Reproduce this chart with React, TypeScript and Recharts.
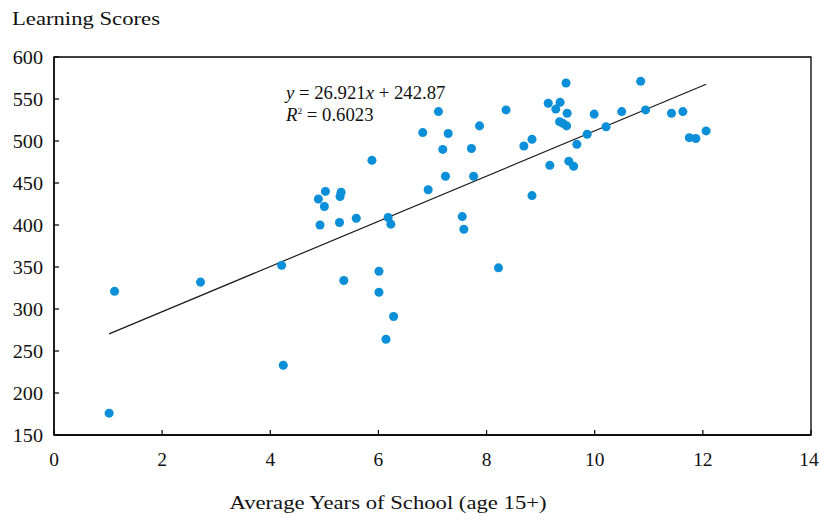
import React from 'react';
import { ScatterChart, Scatter, XAxis, YAxis, ReferenceLine, ReferenceArea } from 'recharts';

const schoolYears = [
  1.02, 1.12, 2.71, 4.21, 4.24, 4.89, 4.92, 5.0, 5.02, 5.28,
  5.31, 5.29, 5.36, 5.59, 5.88, 6.01, 6.01, 6.14, 6.18, 6.23,
  6.28, 6.82, 6.92, 7.11, 7.19, 7.24, 7.29, 7.55, 7.58, 7.72,
  7.76, 7.87, 8.22, 8.36, 8.69, 8.84, 8.84, 9.14, 9.17, 9.28,
  9.36, 9.47, 9.49, 9.35, 9.41, 9.48, 9.52, 9.61, 9.67, 9.86,
  9.99, 10.21, 10.5, 10.85, 10.94, 11.42, 11.63, 11.75, 11.87, 12.06,
];
const learningScores = [
  176, 321, 332, 352, 233, 431, 400, 422, 440, 403,
  439, 434, 334, 408, 477, 345, 320, 264, 409, 401,
  291, 510, 442, 535, 490, 458, 509, 410, 395, 491,
  458, 518, 349, 537, 494, 502, 435, 545, 471, 538,
  546, 569, 533, 523, 521, 518, 476, 470, 496, 508,
  532, 517, 535, 571, 537, 533, 535, 504, 503, 512,
];
const xTicks = [0, 2, 4, 6, 8, 10, 12, 14];
const yTicks = [150, 200, 250, 300, 350, 400, 450, 500, 550, 600];
const trendSlope = 26.921;
const trendIntercept = 242.87;
const rSquared = '0.6023';
const yTitle = 'Learning Scores';
const xTitle = 'Average Years of School (age 15+)';

const FONT = '"Liberation Serif", "Times New Roman", serif';

const XTick = (props: any) => {
  const { x, y, payload } = props;
  const tx = Math.min(x, 809);
  return (
    <g>
      <line x1={x} x2={x} y1={y} y2={y - 5} stroke="#000" strokeWidth={1.2} />
      <text
        transform={`translate(${tx},${y + 31}) scale(1.08,1)`}
        textAnchor="middle"
        fontSize={18}
        fontFamily={FONT}
        fill="#111"
      >
        {payload.value}
      </text>
    </g>
  );
};

const YTick = (props: any) => {
  const { x, y, payload } = props;
  return (
    <g>
      <line x1={x} x2={x + 5} y1={y} y2={y} stroke="#000" strokeWidth={1.2} />
      <text
        transform={`translate(${x - 11},${y + 7}) scale(1.12,1)`}
        textAnchor="end"
        fontSize={18}
        fontFamily={FONT}
        fill="#111"
      >
        {payload.value}
      </text>
    </g>
  );
};

export default function App() {
  const points = schoolYears.map((x, i) => ({ x, y: learningScores[i] }));
  const xMin = Math.min(...schoolYears);
  const xMax = Math.max(...schoolYears);
  const trend = [
    { x: xMin, y: trendSlope * xMin + trendIntercept },
    { x: xMax, y: trendSlope * xMax + trendIntercept },
  ];
  return (
    <div style={{ position: 'absolute', left: 0, top: 0, width: 819, height: 521, background: '#fff' }}>
      <ScatterChart width={819} height={521} margin={{ top: 57, right: 8, bottom: 56, left: 0 }}>
        <XAxis
          type="number"
          dataKey="x"
          domain={[0, 14]}
          ticks={xTicks}
          tick={(p: any) => <XTick {...p} />}
          tickLine={false}
          tickSize={0}
          tickMargin={0}
          height={30}
          axisLine={{ stroke: '#000', strokeWidth: 1.3 }}
          allowDataOverflow
        />
        <YAxis
          type="number"
          dataKey="y"
          domain={[150, 600]}
          ticks={yTicks}
          tick={(p: any) => <YTick {...p} />}
          tickLine={false}
          tickSize={0}
          tickMargin={0}
          width={54}
          axisLine={{ stroke: '#000', strokeWidth: 1.3 }}
          allowDataOverflow
        />
        <ReferenceArea x1={0} x2={14} y1={150} y2={600} fill="none" stroke="#000" strokeWidth={1.3} ifOverflow="visible" />
        <ReferenceLine
          segment={[trend[0], trend[1]]}
          stroke="#1a1a1a"
          strokeWidth={1.2}
          ifOverflow="visible"
        />
        <Scatter data={points} fill="#0a8fd8" isAnimationActive={false} />
      </ScatterChart>
      <svg
        width={819}
        height={521}
        style={{ position: 'absolute', left: 0, top: 0, pointerEvents: 'none' }}
      >
        <text transform="translate(12,25) scale(1.26,1)" fontSize={18} fontFamily={FONT} fill="#111">
          {yTitle}
        </text>
        <text transform="translate(388,509) scale(1.26,1)" textAnchor="middle" fontSize={18} fontFamily={FONT} fill="#111">
          {xTitle}
        </text>
        <text transform="translate(286,99) scale(1.04,1)" fontSize={18} fontFamily={FONT} fill="#111">
          <tspan fontStyle="italic">y</tspan>
          {` = ${trendSlope}`}
          <tspan fontStyle="italic">x</tspan>
          {` + ${trendIntercept}`}
        </text>
        <text transform="translate(286,121) scale(1.04,1)" fontSize={18} fontFamily={FONT} fill="#111">
          <tspan fontStyle="italic">R</tspan>
          <tspan fontSize={9} dy={-7}>2</tspan>
          <tspan dy={7}>{` = ${rSquared}`}</tspan>
        </text>
      </svg>
    </div>
  );
}
